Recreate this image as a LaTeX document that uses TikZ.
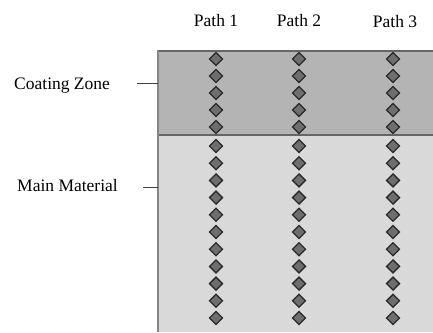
\documentclass[tikz,border=0pt]{standalone}
\usepackage{fontspec}
\setmainfont{Liberation Serif}
\usetikzlibrary{shapes.geometric}
\definecolor{coatfill}{HTML}{B4B4B4}
\definecolor{mainfill}{HTML}{D9D9D9}
\definecolor{edgecol}{HTML}{666666}
\definecolor{dmfill}{HTML}{6E6E6E}
\definecolor{dmdraw}{HTML}{2A2A2A}
\tikzset{
  lbl/.style={font=\fontsize{17.5}{20}\selectfont, inner sep=0pt, text=black},
  marker/.style={diamond, aspect=1, inner sep=0pt, minimum width=13.5pt, minimum height=13.5pt,
    fill=dmfill, draw=dmdraw, line width=1.3pt},
  tick/.style={draw=black!75, line width=0.8pt},
}
\begin{document}
\begin{tikzpicture}[x=1pt,y=-1pt]
\useasboundingbox (0,0) rectangle (433,332);
% zones
\fill[coatfill] (158,51) rectangle (433,135);
\fill[mainfill] (158,135) rectangle (433,332);
\draw[edgecol, line width=2pt] (158,51) -- (433,51);
\draw[edgecol, line width=2pt] (158,135) -- (433,135);
\draw[edgecol!80, line width=1.5pt] (158,50) -- (158,332);
% labels
\node[lbl, anchor=base] (p1) at (216,26) {Path 1};
\node[lbl, anchor=base] (p2) at (299,26) {Path 2};
\node[lbl, anchor=base] (p3) at (395,27) {Path 3};
\node[lbl, anchor=base west] (cz) at (14,89) {Coating Zone};
\node[lbl, anchor=base west] (mm) at (17,191) {Main Material};
\coordinate (czA) at (137,83);
\coordinate (czB) at (158,83);
\coordinate (mmA) at (143,187);
\coordinate (mmB) at (158,187);
\draw[tick] (czA) -- (czB);
\draw[tick] (mmA) -- (mmB);
% markers
\foreach \c/\x in {a/216,b/299,c/393}{
  \foreach \k in {0,...,4}{
    \node[marker] (\c c\k) at (\x,{59+17*\k}) {};
  }
  \foreach \k in {0,...,10}{
    \node[marker] (\c m\k) at (\x,{146+17.2*\k}) {};
  }
}
\end{tikzpicture}
\end{document}
